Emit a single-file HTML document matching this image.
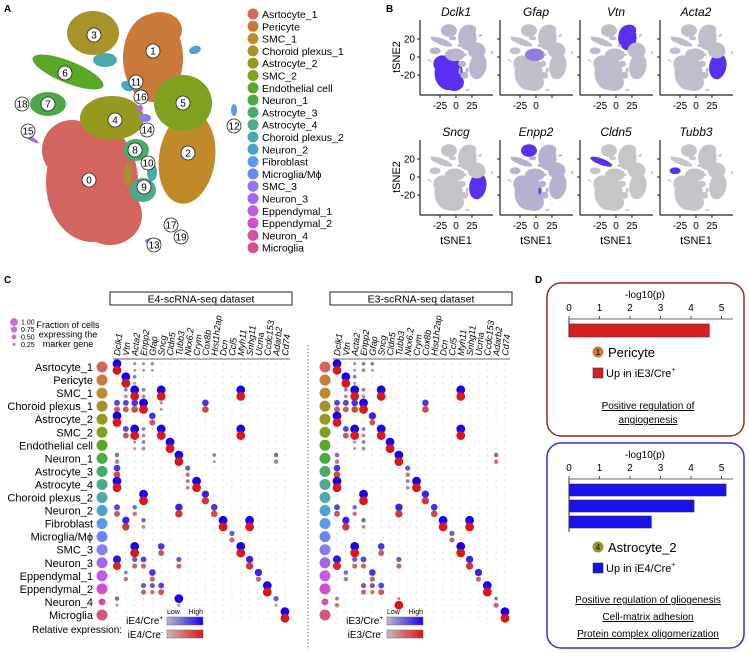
<!DOCTYPE html>
<html><head><meta charset="utf-8"><style>
body{margin:0;background:#fff}
svg{display:block;font-family:"Liberation Sans",sans-serif}
</style></head><body>
<svg id="fig" width="749" height="653" viewBox="0 0 749 653" xmlns="http://www.w3.org/2000/svg">
<text x="4" y="12" font-size="10" font-weight="bold">A</text>
<text x="386" y="12" font-size="10" font-weight="bold">B</text>
<text x="4" y="283" font-size="10" font-weight="bold">C</text>
<text x="535" y="283" font-size="10" font-weight="bold">D</text>
<g id="pa"></g>
<g id="pleg"></g>
<g id="pb"></g>
<g id="pc"></g>
<g id="pd"></g>
</svg>
<script>
const clusterNames=["Asrtocyte_1","Pericyte","SMC_1","Choroid plexus_1","Astrocyte_2","SMC_2","Endothelial cell","Neuron_1","Astrocyte_3","Astrocyte_4","Choroid plexus_2","Neuron_2","Fibroblast","Microglia/M\u03d5","SMC_3","Neuron_3","Eppendymal_1","Eppendymal_2","Neuron_4","Microglia"];
const clusterColors=["#d4645e","#c97a3a","#bf8a2a","#a8922a","#96981f","#80a01f","#5aa72a","#4caa44","#4aaa6a","#4aaa8c","#4aa9aa","#4aa3cc","#5b9bef","#6a86f5","#8a7af0","#a466ee","#c05ae8","#d14fd1","#d64fa8","#d45585"];
const blobs=[[0,92,182,46,60,0],[0,72,150,30,30,0],[0,110,215,32,30,0],[1,153,58,30,44,0],[1,160,30,22,18,0],[2,187,158,28,46,8],[3,93,33,26,22,0],[10,105,60,12,7,0],[4,112,118,32,22,0],[5,183,103,29,28,0],[6,68,72,38,11,22],[7,48,104,18,12,0],[8,136,150,13,11,0],[9,143,190,13,12,0],[10,152,172,5,9,0],[11,128,86,7,5,20],[11,195,50,6,4,-20],[12,234,110,3,6,0],[13,153,241,8,3,0],[14,145,118,6,4,0],[15,30,138,10,2,30],[16,140,108,3,3,0],[17,168,220,2,2,0],[3,128,175,4,12,0]];
const labelPos=[[89,180],[153,51],[188,153],[94,35],[115,120],[183,103],[65,73],[48,104],[135,150],[144,187],[148,163],[136,82],[234,126],[154,245],[147,130],[28,131],[141,97],[171,225],[22,104],[181,237]];
const NS="http://www.w3.org/2000/svg";
function mk(tag,attrs,parent){const e=document.createElementNS(NS,tag);for(const k in attrs)e.setAttribute(k,attrs[k]);parent.appendChild(e);return e;}
const pa=document.getElementById('pa');
blobs.forEach(b=>{const e=mk('ellipse',{cx:b[1],cy:b[2],rx:b[3],ry:b[4],transform:`rotate(${b[5]} ${b[1]} ${b[2]})`,fill:clusterColors[b[0]]},pa);

});
labelPos.forEach((p,i)=>{const g=mk('g',{},pa);


mk('circle',{cx:p[0],cy:p[1],r:7,fill:'#fff',stroke:'#222','stroke-width':0.8},g);
const t=mk('text',{x:p[0],y:p[1]+3.5,'font-size':10,'text-anchor':'middle'},g);t.textContent=i;});
const pleg=document.getElementById('pleg');
clusterNames.forEach((n,i)=>{const y=14+i*12.3;
const c=mk('circle',{cx:253,cy:y,r:5.5,fill:clusterColors[i]},pleg);


const t=mk('text',{x:262,y:y+4,'font-size':10.5},pleg);t.textContent=n;

});
const genesB=["Dclk1","Gfap","Vtn","Acta2","Sncg","Enpp2","Cldn5","Tubb3"];
const highlightB=[[0],[],[1],[2],[2],[3],[6],[7]];
const tintB=[0.18,0.08,0.12,0.1,0.05,0.22,0.02,0.04];
const xTicksB=[-25,0,25];const yTicksB=[20,0,-20];
function mix(a,b,t){const pa=[1,3,5].map(i=>parseInt(a.substr(i,2),16)),pb=[1,3,5].map(i=>parseInt(b.substr(i,2),16));return 'rgb('+pa.map((v,i)=>Math.round(v+(pb[i]-v)*t)).join(',')+')';}
const pb=document.getElementById('pb');
genesB.forEach((g,k)=>{const c=k%4,r=Math.floor(k/4);const px=420+80*c,py=20+120*r;
const grp=mk('g',{},pb);


const sg=mk('g',{transform:`translate(${px+5-15*0.307},${py+4-10*0.285}) scale(0.307,0.285)`},grp);
blobs.forEach(b=>{let col=highlightB[k].includes(b[0])?'#5a2ff0':mix('#c8c8c8','#7a5af0',tintB[k]);
if(k===1&&b[0]===4)col=mix('#c8c8c8','#5a2ff0',0.5);
mk('ellipse',{cx:b[1],cy:b[2],rx:b[3],ry:b[4],transform:`rotate(${b[5]} ${b[1]} ${b[2]})`,fill:col},sg);});
mk('line',{x1:px,y1:py,x2:px,y2:py+75,stroke:'#222','stroke-width':1.2},grp);
mk('line',{x1:px,y1:py+75,x2:px+73,y2:py+75,stroke:'#222','stroke-width':1.2},grp);
const tt=mk('text',{x:px+36,y:py-4,'font-size':12,'font-style':'italic','text-anchor':'middle'},grp);tt.textContent=g;
xTicksB.forEach(v=>{const x=px+20+(v+25)*0.64;mk('line',{x1:x,y1:py+75,x2:x,y2:py+78,stroke:'#222'},grp);
if(!(k===1&&v===25)){const t=mk('text',{x:x,y:py+89,'font-size':10,'text-anchor':'middle'},grp);t.textContent=v;}});
yTicksB.forEach(v=>{const y=py+37-v*0.9;mk('line',{x1:px-3,y1:y,x2:px,y2:y,stroke:'#222'},grp);
if(c===0){const t=mk('text',{x:px-5,y:y+3.5,'font-size':10,'text-anchor':'end'},grp);t.textContent=v;}});
if(c===0){const t=mk('text',{x:0,y:0,'font-size':11,'text-anchor':'middle',transform:`translate(400,${py+37}) rotate(-90)`},grp);t.textContent='tSNE2';

}
if(r===1){const t=mk('text',{x:px+36,y:py+104,'font-size':11,'text-anchor':'middle'},grp);t.textContent='tSNE1';

}
});
const genesC=["Dclk1","Vtn","Acta2","Enpp2","Gfap","Sncg","Cldn5","Tubb3","Nkx6.2","Crym","Cox8b","Hist1h2ap","Dcn","Ccl5","Myh11","Snhg11","Ucma","Ccdc153","Adarb2","Cd74"];
const markersE4=[[[0,1,1],[2,.2,.2],[3,.2,.2],[4,.25,.2]],[[1,1,1],[2,.3,.2]],[[2,1,1],[5,1,1],[14,1,1],[1,.3,.3],[3,.3,.3]],[[0,.6,.6],[1,.6,.6],[2,.7,.7],[3,1,1],[10,.7,.7],[5,.2,.2]],[[0,1,1],[4,.7,.6]],[[1,.6,.6],[2,1,1],[5,1,1],[14,1,1],[3,.3,.3]],[[6,1,1],[3,.3,.3],[2,.2,.2]],[[7,1,1],[0,.4,.4],[18,.4,.4],[11,.3,.2]],[[0,.7,.7],[8,.5,.4]],[[0,1,1],[9,1,1],[8,.3,.3]],[[3,1,1],[10,.8,.8]],[[0,.6,.6],[7,.8,.8],[11,.7,.7],[2,.4,.4]],[[1,.8,.8],[12,1,1],[15,1,1],[3,.4,.3]],[[13,.5,.5]],[[2,1,1],[5,.7,.6],[14,1,1]],[[0,.9,.9],[15,.8,.8],[7,.5,.5],[2,.5,.5],[3,.6,.5]],[[16,.8,.5],[4,.7,.5],[1,.3,.4]],[[17,1,1],[5,.6,.6],[3,.5,.5],[4,.5,.4]],[[7,1,.2],[18,.5,.2],[0,.4,.2]],[[19,1,1]]];
const markersE3=[[[0,1,1],[2,.2,.2],[3,.3,.3],[4,.3,.2]],[[1,1,1],[2,.3,.2]],[[2,1,1],[5,1,1],[14,1,1],[1,.3,.3],[3,.3,.3]],[[0,.6,.6],[1,.6,.6],[2,.7,.7],[3,1,1],[10,.7,.7]],[[0,1,1],[4,.8,.6]],[[1,.6,.6],[2,1,1],[5,1,1],[14,1,1],[3,.3,.3]],[[6,1,1],[3,.3,.3],[2,.2,.2]],[[7,1,1],[0,.4,.4],[18,.4,.4]],[[0,.7,.7],[8,.5,.4]],[[0,1,1],[9,1,1],[8,.3,.3]],[[3,1,1],[10,.8,.8]],[[0,.6,.6],[7,.8,.8],[11,.7,.7],[2,.4,.4]],[[1,.8,.8],[12,1,1],[15,1,1],[3,.4,.3]],[[13,.5,.5]],[[2,1,1],[5,.7,.6],[14,1,1]],[[0,.9,.9],[15,.8,.8],[7,.5,.5],[2,.5,.5],[3,.6,.5]],[[16,.8,.5],[4,.7,.5],[1,.4,.4]],[[17,1,1],[5,.6,.6],[3,.5,.5],[4,.5,.4]],[[7,.2,1],[18,.3,.5],[0,.3,.4]],[[19,1,1]]];
const sizeLegendVals=[1.00,0.75,0.50,0.25];
const pc=document.getElementById('pc');
function rad(f){return 0.8+f*3.6;}
function colX(ds,c){return (ds===0?117:337)+c*8.84;}
function rowY(r){return 367+r*13.05;}
function drawDataset(ds,markers,title){
 const x0=ds===0?110:330;
 const g=mk('g',{},pc);
 
 
 mk('rect',{x:x0,y:292,width:182,height:13,fill:'#fff',stroke:'#222','stroke-width':1},g);
 const ht=mk('text',{x:x0+91,y:302.5,'font-size':10.5,'text-anchor':'middle'},g);ht.textContent=title;
 
 
 mk('line',{x1:colX(ds,0)-4,y1:359,x2:colX(ds,19)+5,y2:359,stroke:'#999','stroke-width':1.5},g);
 genesC.forEach((gn,c)=>{const t=mk('text',{x:0,y:0,'font-size':9,'font-style':'italic',transform:`translate(${colX(ds,c)+3},356) rotate(-84)`},g);t.textContent=gn;
 
 });
 clusterNames.forEach((n,r)=>{const y=rowY(r);
  const rc=mk('circle',{cx:ds===0?102:325,cy:y,r:r===18?3.5:5.5,fill:clusterColors[r]},g);
  
  
  for(let c=0;c<20;c++){mk('circle',{cx:colX(ds,c),cy:y-3.3,r:0.6,fill:'#c8c8d8'},g);mk('circle',{cx:colX(ds,c),cy:y+3.3,r:0.6,fill:'#d8c8c8'},g);}
  markers[r].forEach(m=>{
   const b=mk('circle',{cx:colX(ds,m[0]),cy:y-3.3,r:rad(m[1]),fill:mix('#b0b0c0','#1a00f0',m[1])},g);
   
   
   const d=mk('circle',{cx:colX(ds,m[0]),cy:y+3.3,r:rad(m[2]),fill:mix('#c0b0b0','#d81818',m[2])},g);
   
   });
 });
 const lx=ds===0?167:387;const tag=ds===0?'iE4':'iE3';
 const defs=mk('defs',{},g);
 const gb=mk('linearGradient',{id:'gb'+ds},defs);mk('stop',{offset:0,'stop-color':'#b8b8c8'},gb);mk('stop',{offset:1,'stop-color':'#1a00f0'},gb);
 const gr=mk('linearGradient',{id:'gr'+ds},defs);mk('stop',{offset:0,'stop-color':'#c8b8b8'},gr);mk('stop',{offset:1,'stop-color':'#d81818'},gr);
 mk('rect',{x:lx,y:617,width:36,height:8,fill:`url(#gb${ds})`,stroke:'#666','stroke-width':0.5},g);
 mk('rect',{x:lx,y:630,width:36,height:8,fill:`url(#gr${ds})`,stroke:'#666','stroke-width':0.5},g);
 let t=mk('text',{x:lx,y:614,'font-size':7},g);t.textContent='Low';
 t=mk('text',{x:lx+36,y:614,'font-size':7,'text-anchor':'end'},g);t.textContent='High';
 t=mk('text',{x:lx-4,y:624,'font-size':10,'text-anchor':'end'},g);t.innerHTML=tag+'/Cre<tspan font-size="6" dy="-4">+</tspan>';
 t=mk('text',{x:lx-4,y:638,'font-size':10,'text-anchor':'end'},g);t.innerHTML=tag+'/Cre<tspan font-size="6" dy="-4">-</tspan>';
}
clusterNames.forEach((n,r)=>{const t=mk('text',{x:93,y:rowY(r)+4,'font-size':11,'text-anchor':'end'},pc);t.textContent=n;

});
drawDataset(0,markersE4,'E4-scRNA-seq dataset');
drawDataset(1,markersE3,'E3-scRNA-seq dataset');
mk('line',{x1:308,y1:345,x2:308,y2:650,stroke:'#444','stroke-width':0.8,'stroke-dasharray':'1.5,2'},pc);
sizeLegendVals.forEach((v,i)=>{const y=322+i*7.5;mk('circle',{cx:14,cy:y,r:rad(v)*0.9,fill:'#c86ee0'},pc);
const t=mk('text',{x:21,y:y+2.5,'font-size':7},pc);t.textContent=v.toFixed(2);});
["Fraction of cells","expressing the","marker gene"].forEach((s,i)=>{const t=mk('text',{x:68,y:328+i*9.5,'font-size':9,'text-anchor':'middle'},pc);t.textContent=s;});
{const t=mk('text',{x:32,y:633,'font-size':10},pc);t.textContent='Relative expression:';}
const goTicks=[0,1,2,3,4,5];
const peri=[4.6];
const astro=[5.15,4.1,2.7];
const pd=document.getElementById('pd');
function xD(v){return 569+v*30.5;}
function goBox(y0,h,stroke,vals,barCol,axisY,barH,barGap,num,numCol,name,tag,lines,ly0){
 const g=mk('g',{},pd);
 
 
 mk('rect',{x:547,y:y0,width:197,height:h,rx:14,fill:'#fff',stroke:stroke,'stroke-width':1.5},g);
 let t=mk('text',{x:645,y:axisY-21,'font-size':10,'text-anchor':'middle'},g);t.textContent='-log10(p)';
 mk('line',{x1:569,y1:axisY,x2:733,y2:axisY,stroke:'#888','stroke-width':1.2},g);
 goTicks.forEach(v=>{mk('line',{x1:xD(v),y1:axisY-3,x2:xD(v),y2:axisY,stroke:'#555'},g);
 const tt=mk('text',{x:xD(v),y:axisY-8,'font-size':10,'text-anchor':'middle'},g);tt.textContent=v;});
 vals.forEach((v,i)=>{const b=mk('rect',{x:569,y:axisY+5+i*(barH+barGap),width:xD(v)-569,height:barH,fill:barCol,stroke:'#333','stroke-width':0.6},g);
 
 });
 const ey=axisY+5+vals.length*(barH+barGap);
 mk('line',{x1:569,y1:axisY,x2:569,y2:ey,stroke:'#333','stroke-width':1},g);
 const cy=ey+15;
 mk('circle',{cx:598,cy:cy,r:5.5,fill:numCol},g);
 t=mk('text',{x:598,y:cy+3,'font-size':8,'text-anchor':'middle'},g);t.textContent=num;
 t=mk('text',{x:608,y:cy+5,'font-size':13},g);t.textContent=name;
 mk('rect',{x:593,y:cy+16,width:10,height:10,fill:barCol,stroke:'#333','stroke-width':0.6},g);
 t=mk('text',{x:606,y:cy+25,'font-size':11},g);t.innerHTML=tag+'/Cre<tspan font-size="7" dy="-5">+</tspan>';
 lines.forEach((s,i)=>{const tt=mk('text',{x:648,y:ly0+i*17,'font-size':10,'text-anchor':'middle','text-decoration':'underline'},g);tt.textContent=s;
 
 });
}
goBox(283,153,'#a0262a',peri,'#d42020',319,13,0,'1','#c97a3a','Pericyte','Up in iE3',['Positive regulation of'],409);
{const t=mk('text',{x:648,y:423,'font-size':10,'text-anchor':'middle','text-decoration':'underline'},pd);t.textContent='angiogenesis';}
goBox(443,205,'#3a2be0',astro,'#1a10ee',479,12,4,'4','#96981f','Astrocyte_2','Up in iE4',['Positive regulation of gliogenesis','Cell-matrix adhesion','Protein complex oligomerization'],603);
</script>
</body></html>
